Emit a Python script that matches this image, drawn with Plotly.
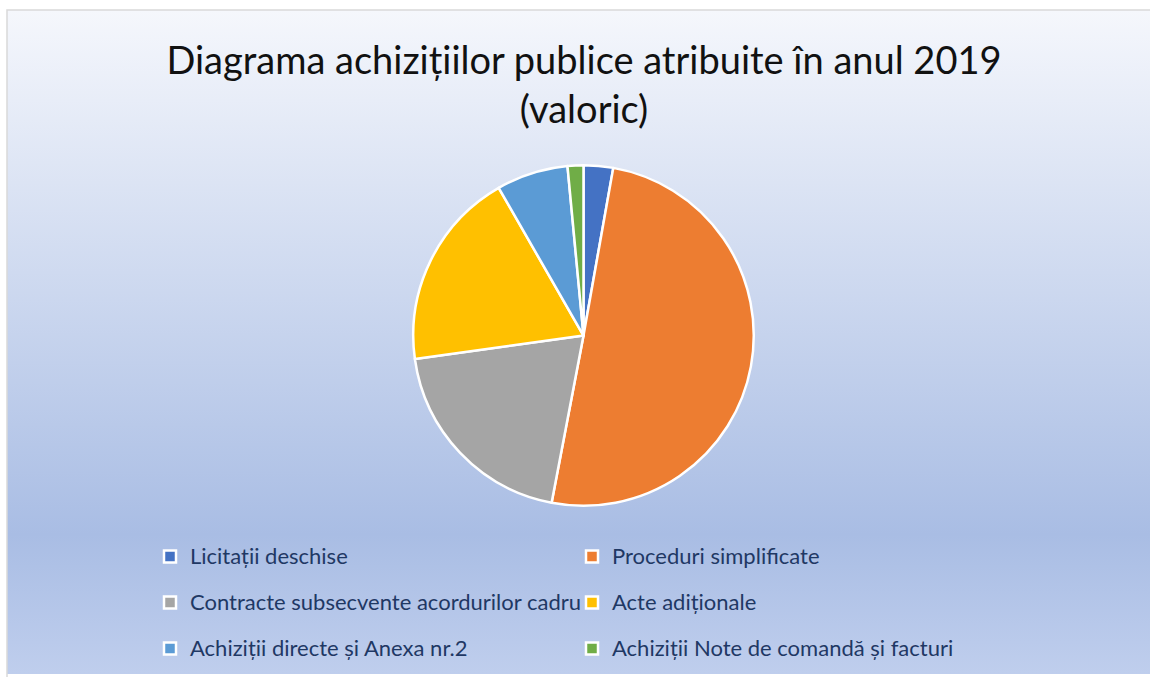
import urllib.parse
import plotly.graph_objects as go

# ---- data ----
labels = [
    "Licitații deschise",
    "Proceduri simplificate",
    "Contracte subsecvente acordurilor cadru",
    "Acte adiționale",
    "Achiziții directe și Anexa nr.2",
    "Achiziții Note de comandă și facturi",
]
values = [2.8, 50.2, 19.8, 18.9, 6.8, 1.5]
colors = ["#4472c4", "#ed7d31", "#a5a5a5", "#ffc000", "#5b9bd5", "#70ad47"]
title_text = "Diagrama achizițiilor publice atribuite în anul 2019<br>(valoric)"

W, H = 1150, 677
FONT = "Lato"

legend_labels = [f'<span style="font-size:22px;baseline-shift:5px">{l}</span>' for l in labels]

fig = go.Figure(
    go.Pie(
        labels=legend_labels,
        values=values,
        sort=False,
        direction="clockwise",
        rotation=0,
        textinfo="none",
        marker=dict(colors=colors, line=dict(color="white", width=2.5)),
        domain=dict(x=[412 / W, 755 / W], y=[(H - 508) / H, (H - 166) / H]),
        hovertemplate="%{label}: %{value}<extra></extra>",
    )
)

# gradient background as an inline SVG image
svg = (
    "<svg xmlns='http://www.w3.org/2000/svg' width='100' height='100' viewBox='0 0 100 100' "
    "preserveAspectRatio='none'><defs><linearGradient id='g' x1='0' y1='0' x2='0' y2='1'>"
    "<stop offset='0' stop-color='#f5f7fc'/>"
    "<stop offset='0.79' stop-color='#a9bde4'/>"
    "<stop offset='1' stop-color='#bfceed'/>"
    "</linearGradient></defs><rect x='0' y='0' width='100' height='100' fill='url(#g)'/></svg>"
)
src = "data:image/svg+xml;charset=utf-8," + urllib.parse.quote(svg)

x0, y0 = 7 / W, 1 - 10 / H
fig.update_layout(
    width=W,
    height=H,
    margin=dict(l=0, r=0, t=0, b=0),
    paper_bgcolor="white",
    plot_bgcolor="white",
    font=dict(family=FONT, color="#1f3864"),
    title=dict(
        text=title_text,
        x=584 / W,
        xanchor="center",
        y=1 - 74 / H,
        yanchor="middle",
        yref="container",
        font=dict(family=FONT, size=38, color="#111111"),
    ),
    showlegend=True,
    legend=dict(
        orientation="h",
        x=150 / W,
        xanchor="left",
        y=1 - 531 / H,
        yanchor="top",
        entrywidth=377,
        entrywidthmode="pixels",
        font=dict(family=FONT, size=33, color="#1f3864"),
        bgcolor="rgba(0,0,0,0)",
        traceorder="normal",
    ),
    images=[
        dict(
            source=src,
            xref="paper",
            yref="paper",
            x=x0,
            y=y0,
            sizex=1 - x0,
            sizey=y0,
            xanchor="left",
            yanchor="top",
            sizing="stretch",
            layer="below",
        )
    ],
    shapes=[
        dict(
            type="rect",
            xref="paper",
            yref="paper",
            x0=x0,
            x1=1.05,
            y0=-0.05,
            y1=y0,
            line=dict(color="#d9d9d9", width=1.5),
            fillcolor="rgba(0,0,0,0)",
            layer="below",
        )
    ],
)

fig.write_html(
    "out.html",
    config={"displayModeBar": False},
    post_script="document.body.style.margin='0';document.body.style.overflow='hidden';",
)
